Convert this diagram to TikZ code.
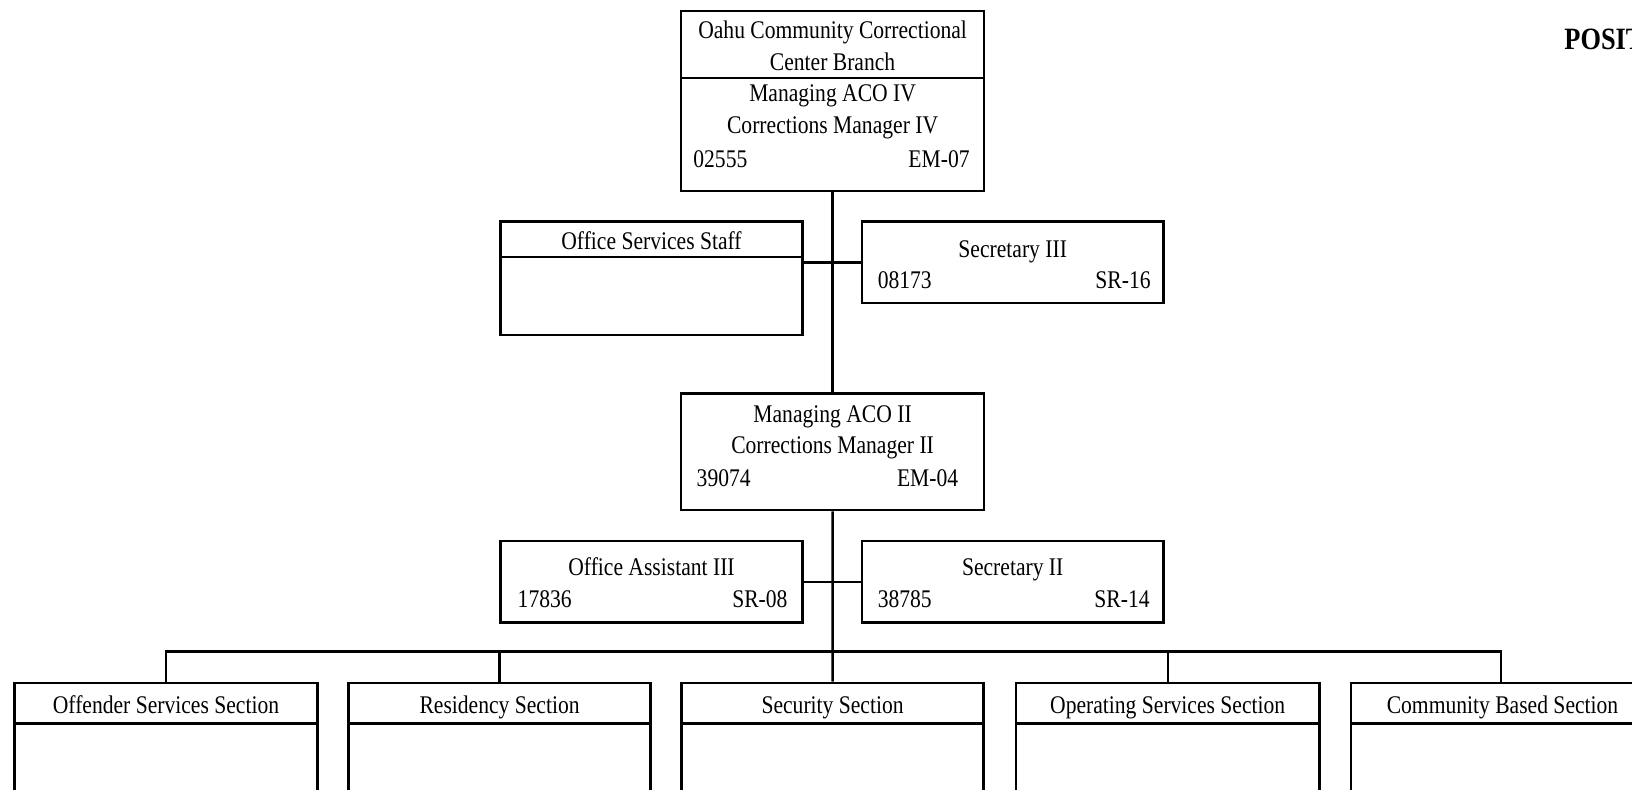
\documentclass[tikz,border=0pt]{standalone}
\usepackage{fontspec}
\setmainfont[FakeStretch=0.85]{Liberation Serif}
\usetikzlibrary{fit}
\begin{document}
\begin{tikzpicture}[x=0.5pt,y=-0.5pt,
  box/.style={draw, line width=1.25pt, inner sep=0pt, rectangle},
  txt/.style={inner sep=0pt, yshift=-1.6pt, font=\fontsize{12.7}{14}\selectfont},
  conn/.style={line width=1.25pt}]
\useasboundingbox (0,0) rectangle (1632,789);
\clip (0,0) rectangle (1632,789);
\fill[white] (0,0) rectangle (1632,789);

% top box
\node[box, fit={(681,11) (984,191)}] (top) {};
\draw[conn] (681,78) -- (984,78);
\node[txt, anchor=mid] (t1) at (832.6,31.2) {Oahu Community Correctional};
\node[txt, anchor=mid] (t2) at (832.6,62.4) {Center Branch};
\node[txt, anchor=mid] (t3) at (832.6,93.7) {Managing ACO IV};
\node[txt, anchor=mid] (t4) at (832.6,126) {Corrections Manager IV};
\node[txt, anchor=mid west] (t5) at (693,159.2) {02555};
\node[txt, anchor=mid east] (t6) at (970,159.2) {EM-07};

% office services staff
\node[box, fit={(500.6,221.7) (802.5,335)}] (oss) {};
\draw[conn] (500.6,257) -- (802.5,257);
\node[txt, anchor=mid] (oss1) at (651.5,241.5) {Office Services Staff};

% secretary III
\node[box, fit={(861.8,221.7) (1163.6,302.9)}] (sec3) {};
\node[txt, anchor=mid] (s31) at (1012.7,249.8) {Secretary III};
\node[txt, anchor=mid west] (s32) at (877.4,281) {08173};
\node[txt, anchor=mid east] (s33) at (1151,281) {SR-16};

% managing aco II
\node[box, fit={(681,393.4) (984,510)}] (aco2) {};
\node[txt, anchor=mid] (a1) at (832.6,414.2) {Managing ACO II};
\node[txt, anchor=mid] (a2) at (832.6,445.5) {Corrections Manager II};
\node[txt, anchor=mid west] (a3) at (696.3,478.8) {39074};
\node[txt, anchor=mid east] (a4) at (958.6,478.8) {EM-04};

% office assistant III
\node[box, fit={(500.6,541.2) (802.5,622.4)}] (oa3) {};
\node[txt, anchor=mid] (o1) at (651.5,567.2) {Office Assistant III};
\node[txt, anchor=mid west] (o2) at (517.3,599.5) {17836};
\node[txt, anchor=mid east] (o3) at (787.9,599.5) {SR-08};

% secretary II
\node[box, fit={(861.8,541.2) (1163.6,622.4)}] (sec2) {};
\node[txt, anchor=mid] (s21) at (1012.7,567.2) {Secretary II};
\node[txt, anchor=mid west] (s22) at (877.4,599.5) {38785};
\node[txt, anchor=mid east] (s23) at (1150,599.5) {SR-14};

% sections
\node[box, fit={(14.6,682.8) (317.4,850)}] (off) {};
\node[box, fit={(348.7,682.8) (650.5,850)}] (res) {};
\node[box, fit={(681.7,682.8) (983.5,850)}] (sec) {};
\node[box, fit={(1015.8,682.8) (1319.7,850)}] (ops) {};
\node[box, fit={(1351,682.8) (1651,850)}] (com) {};
\draw[conn] (14.6,723.4) -- (317.4,723.4);
\draw[conn] (348.7,723.4) -- (650.5,723.4);
\draw[conn] (681.7,723.4) -- (983.5,723.4);
\draw[conn] (1015.8,723.4) -- (1319.7,723.4);
\draw[conn] (1351,723.4) -- (1651,723.4);
\node[txt, anchor=mid] (l1) at (166,705.5) {Offender Services Section};
\node[txt, anchor=mid] (l2) at (499.6,705.5) {Residency Section};
\node[txt, anchor=mid] (l3) at (832.6,705.5) {Security Section};
\node[txt, anchor=mid] (l4) at (1167.7,705.5) {Operating Services Section};
\node[txt, anchor=mid] (l5) at (1502.5,705.5) {Community Based Section};

% title (cut off at the edge, as in the reference)
\node[txt, anchor=mid west, font=\fontsize{15.5}{17}\selectfont\bfseries] (title) at (1564,42) {POSITION};

% connectors
\draw[conn] (top.south) -- (aco2.north);
\draw[conn] (sec3.west) -- (sec3.west -| oss.east);
\draw[conn] (sec2.west) -- (oa3.east);
\draw[conn] (aco2.south) -- (sec.north);
\coordinate (bus) at (832.6,651.5);
\draw[conn] (off.north) -- (off.north |- bus) -- (com.north |- bus) -- (com.north);
\draw[conn] (res.north) -- (res.north |- bus);
\draw[conn] (ops.north) -- (ops.north |- bus);
\end{tikzpicture}
\end{document}
